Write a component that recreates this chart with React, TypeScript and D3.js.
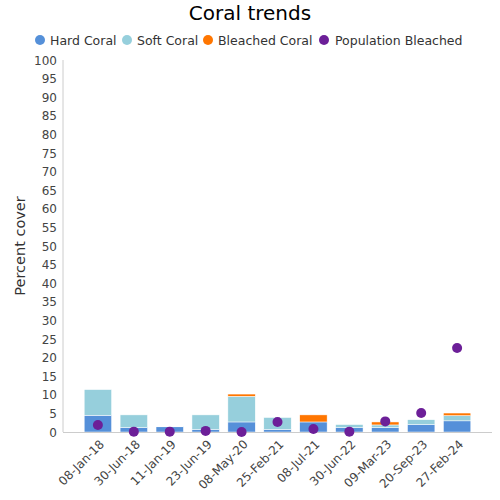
import React from "react";
import * as d3 from "d3";

const dates = ["08-Jan-18","30-Jun-18","11-Jan-19","23-Jun-19","08-May-20","25-Feb-21","08-Jul-21","30-Jun-22","09-Mar-23","20-Sep-23","27-Feb-24"];
const hardCoral = [4.5, 1.2, 1.4, 0.7, 2.7, 0.7, 2.7, 1.2, 1.2, 2.0, 3.0];
const softCoral = [6.9, 3.4, 0.1, 3.9, 6.9, 3.2, 0.0, 0.8, 0.7, 1.3, 1.4];
const bleachedCoral = [0.0, 0.0, 0.0, 0.0, 0.6, 0.0, 1.9, 0.0, 0.8, 0.0, 0.7];
const populationBleached = [1.9, 0.1, 0.1, 0.3, 0.0, 2.7, 0.8, 0.1, 2.85, 5.1, 22.6];
const yTicks = d3.range(0, 101, 5);

const seriesNames = ["Hard Coral", "Soft Coral", "Bleached Coral", "Population Bleached"];
const colors = ["#5590d9", "#96cfdc", "#ff7600", "#6c1f98"];

const FONT = "'DejaVu Sans', sans-serif";

export default function App() {
  const W = 500, H = 500;
  const left = 63, right = 492, top = 60, bottom = 432;
  const x = d3.scaleBand<string>().domain(dates).range([left, right]).paddingInner(0.237).paddingOuter(0.59);
  const y = d3.scaleLinear().domain([0, 100]).range([bottom, top]);

  const rows = dates.map((d, i) => ({ date: d, hard: hardCoral[i], soft: softCoral[i], bleached: bleachedCoral[i] }));
  const stack = d3.stack<any>().keys(["hard", "soft", "bleached"])(rows);

  const legendItems = [
    { x: 40, tx: 50 },
    { x: 127, tx: 137 },
    { x: 208, tx: 218 },
    { x: 324, tx: 335 },
  ];

  return (
    <svg width={W} height={H} style={{ position: "absolute", left: 0, top: 0 }} fontFamily={FONT}>
      <rect width={W} height={H} fill="#fff" />
      <text x={250} y={20} textAnchor="middle" fontSize={20} fill="#000">Coral trends</text>
      {seriesNames.map((n, i) => (
        <g key={n}>
          <circle cx={legendItems[i].x} cy={40} r={5} fill={colors[i]} />
          <text x={legendItems[i].tx} y={44.5} fontSize={12.5} fill="#333">{n}</text>
        </g>
      ))}
      {/* y axis */}
      <line x1={left} x2={left} y1={top} y2={bottom} stroke="#ccc" strokeWidth={1} />
      {yTicks.map(t => (
        <text key={t} x={57} y={y(t) + 4.5} textAnchor="end" fontSize={12} fill="#444">{t}</text>
      ))}
      <text transform={`translate(25,${(top + bottom) / 2}) rotate(-90)`} textAnchor="middle" fontSize={14.5} fill="#333">Percent cover</text>
      {/* bars */}
      {stack.map((layer, si) => (
        <g key={si}>
          {layer.map((seg, i) => {
            const h = y(seg[0]) - y(seg[1]);
            if (h <= 0) return null;
            return (
              <rect key={i} x={x(dates[i])} y={y(seg[1])} width={x.bandwidth()} height={h}
                fill={colors[si]} stroke="#fff" strokeWidth={0.5} />
            );
          })}
        </g>
      ))}
      {/* x axis */}
      <line x1={left} x2={right} y1={bottom + 0.5} y2={bottom + 0.5} stroke="#ccc" strokeWidth={1} />
      {dates.map(d => (
        <text key={d} transform={`translate(${x(d)! + x.bandwidth() / 2 + 4},${bottom + 10}) rotate(-45)`}
          textAnchor="end" fontSize={12} fill="#444" dy="0.35em">{d}</text>
      ))}
      {/* dots */}
      {populationBleached.map((v, i) => (
        <circle key={i} cx={x(dates[i])! + x.bandwidth() / 2} cy={y(v)} r={5} fill={colors[3]} />
      ))}
    </svg>
  );
}
